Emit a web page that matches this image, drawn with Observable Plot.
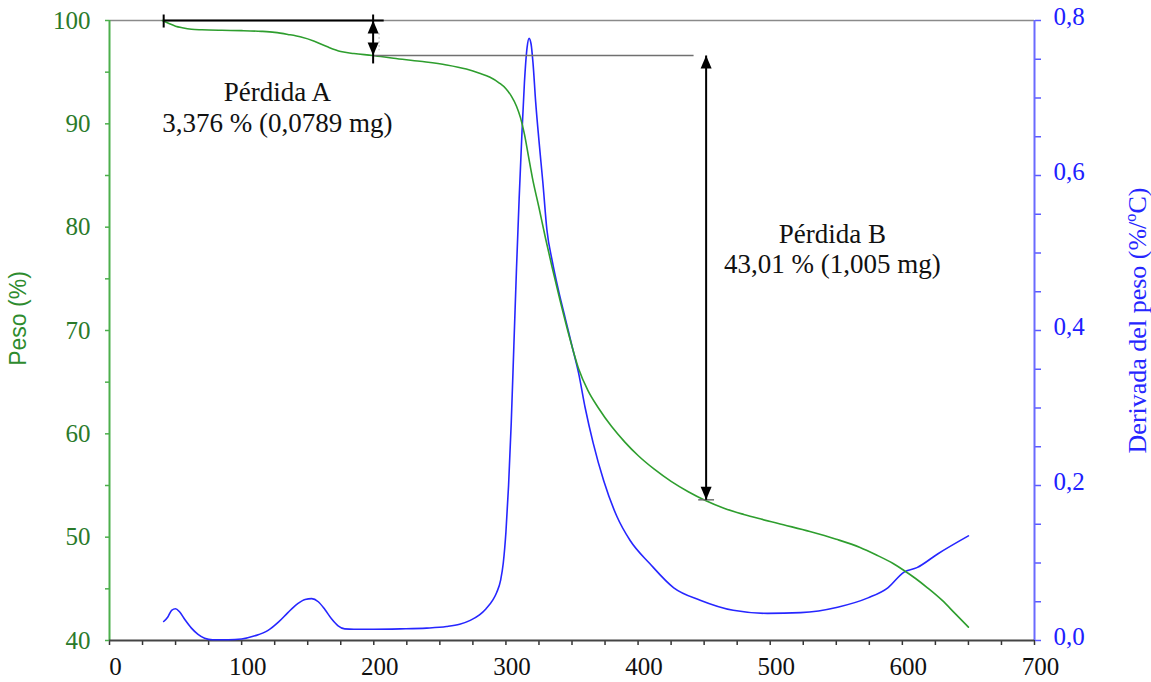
<!DOCTYPE html>
<html><head><meta charset="utf-8">
<script src="https://cdn.jsdelivr.net/npm/d3@7"></script>
<script src="https://cdn.jsdelivr.net/npm/@observablehq/plot@0.6"></script>
<style>body{margin:0;background:#fff} #chart svg{display:block}</style>
</head><body><div id="chart"></div>
<script>
// Temperature (°C) and weight (%) — green TGA curve
const tempW = [40, 45, 50, 55, 62, 70, 85, 100, 115, 125, 135, 145, 155, 165, 175, 185, 199, 215, 235, 255, 270, 280, 288, 295, 300, 304, 308, 311, 314, 317, 320, 325, 330, 335, 341, 348, 355, 362, 370, 380, 390, 400, 412, 425, 438, 451, 465, 480, 493, 510, 530, 550, 568, 580, 593, 601, 610, 619, 630, 640, 650];
const weight = [100, 99.7, 99.45, 99.3, 99.15, 99.1, 99.05, 99.02, 98.95, 98.85, 98.65, 98.4, 98.0, 97.45, 97.0, 96.8, 96.62, 96.35, 96.05, 95.7, 95.3, 94.9, 94.5, 93.95, 93.4, 92.7, 91.7, 90.6, 89.0, 86.9, 84.8, 81.9, 78.9, 76.1, 72.9, 69.4, 66.3, 64.2, 62.5, 60.7, 59.2, 57.9, 56.6, 55.4, 54.4, 53.55, 52.8, 52.2, 51.75, 51.2, 50.55, 49.8, 49.0, 48.3, 47.45, 46.8, 46.0, 45.1, 43.9, 42.6, 41.3];

// Temperature (°C) and weight derivative (%/°C) — blue DTG curve
const tempD = [41, 44, 47, 50, 53, 57, 62, 67, 72, 78, 90, 100, 110, 120, 128, 135, 142, 148, 153, 158, 163, 168, 173, 178, 185, 200, 220, 240, 255, 265, 273, 280, 285, 290, 293, 296, 298, 300, 302, 304, 306, 308, 310, 312, 314, 316, 317.5, 319, 320.5, 322.5, 325, 328, 331, 335, 340, 345, 350, 355, 360, 366, 374, 384, 394, 409, 427, 447, 472, 498, 523, 551, 574, 589, 601, 611, 627, 650];
const deriv = [0.0245, 0.030, 0.039, 0.041, 0.037, 0.027, 0.016, 0.008, 0.003, 0.001, 0.001, 0.002, 0.006, 0.013, 0.024, 0.036, 0.047, 0.053, 0.054, 0.050, 0.040, 0.028, 0.019, 0.015, 0.0145, 0.0145, 0.015, 0.016, 0.018, 0.021, 0.026, 0.033, 0.041, 0.052, 0.062, 0.078, 0.10, 0.14, 0.20, 0.28, 0.38, 0.48, 0.57, 0.65, 0.72, 0.765, 0.777, 0.77, 0.745, 0.695, 0.645, 0.59, 0.53, 0.49, 0.45, 0.415, 0.38, 0.345, 0.30, 0.255, 0.206, 0.16, 0.129, 0.099, 0.068, 0.052, 0.039, 0.035, 0.036, 0.043, 0.055, 0.068, 0.088, 0.094, 0.112, 0.135];

// Axis ticks
const xTicks = [0, 100, 200, 300, 400, 500, 600, 700];
const xMinorStep = 25;
const yLeftTicks = [40, 50, 60, 70, 80, 90, 100];
const yLeftMinorStep = 5;
const yRightTicks = [0, 0.2, 0.4, 0.6, 0.8];
const yRightMinorStep = 0.05;

// Annotation values
const wStart = 100;
const lossA = 3.376, lossB = 43.01;
const tStart = 41, tArrowA = 199.5, tLineAEnd = 207.5, tLineBEnd = 442, tArrowB = 451.5;
const labelsA = ["Pérdida A", "3,376 % (0,0789 mg)"];
const labelsB = ["Pérdida B", "43,01 % (1,005 mg)"];
const labelAPos = {t: 127, w: [93.06, 90.06]};
const labelBPos = {t: 547, w: [79.35, 76.44]};

const wA = wStart - lossA;          // 96.624
const wB = wA - lossB;              // 53.614

// map derivative onto the weight scale (0 → 40, 0.8 → 100)
const k = 60 / 0.8;
const toW = d => 40 + d * k;

const green = "#2e9e2e", blue = "#2626ff";
const tga = tempW.map((t, i) => ({t, w: weight[i]}));
const dtg = tempD.map((t, i) => ({t, w: toW(deriv[i])}));

const headUp = {draw(ctx) { ctx.moveTo(0, 0); ctx.lineTo(-5.5, 13); ctx.lineTo(5.5, 13); ctx.closePath(); }};
const headDown = {draw(ctx) { ctx.moveTo(0, 0); ctx.lineTo(-5.5, -13); ctx.lineTo(5.5, -13); ctx.closePath(); }};

const segsBlack = [
  {x1: tStart, y1: wStart, x2: tLineAEnd, y2: wStart},
  {x1: tStart, y1: wStart + 0.58, x2: tStart, y2: wStart - 0.68},
  {x1: tArrowA, y1: wStart + 0.58, x2: tArrowA, y2: wA - 0.78},
  {x1: tArrowB, y1: wA, x2: tArrowB, y2: wB}
];
const segsGray = [
  {x1: tArrowA, y1: wA, x2: tLineBEnd, y2: wA},
  {x1: tArrowB - 6, y1: wB, x2: tArrowB + 6, y2: wB}
];

const xMinor = d3.range(0, 700 + 1e-9, xMinorStep);
const yLeftMinor = d3.range(40, 100 + 1e-9, yLeftMinorStep);
const yRightMinor = d3.range(0, 0.8 + 1e-9, yRightMinorStep).map(toW);

const chart = Plot.plot({
  width: 1151, height: 682,
  marginLeft: 109, marginRight: 117, marginTop: 20, marginBottom: 42,
  style: {fontFamily: "Liberation Serif, serif", fontSize: "25px", background: "white", overflow: "visible"},
  x: {domain: [0, 700], label: null},
  y: {domain: [40, 100], label: null},
  marks: [
    // frame lines
    Plot.ruleY([100], {stroke: "#8a8a8a", strokeWidth: 1.5}),
    // axes ticks
    Plot.axisX({ticks: xMinor, tickSize: 5, tickFormat: () => "", stroke: "#333", strokeWidth: 1.5, label: null}),
    Plot.axisX({ticks: xTicks, tickSize: 0, tickPadding: 17, dx: 6, fill: "#111", fontSize: 25, label: null}),
    Plot.axisY({ticks: yLeftMinor, tickSize: 4, tickFormat: () => "", stroke: "#4caf4c", strokeWidth: 1.5, label: null}),
    Plot.axisY({ticks: yLeftTicks, tickSize: 0, tickPadding: 19, fill: "#2a7a2a", fontSize: 25, label: null}),
    Plot.axisY({anchor: "right", ticks: yRightMinor, tickSize: 6, tickFormat: () => "", stroke: "#5a5aff", strokeWidth: 1.5, label: null}),
    Plot.axisY({anchor: "right", ticks: yRightTicks.map(toW), tickSize: 0, tickPadding: 19, dy: -4, fill: "#2020ff", fontSize: 25,
      tickFormat: v => ((v - 40) / k).toFixed(1).replace(".", ","), label: null}),
    Plot.ruleX([0], {stroke: "#4caf4c", strokeWidth: 2}),
    Plot.ruleX([700], {stroke: "#6a6aff", strokeWidth: 2}),
    Plot.ruleY([40], {stroke: "#444", strokeWidth: 2}),
    // axis titles
    Plot.text(["Peso (%)"], {frameAnchor: "left", textAnchor: "middle", dx: -91, dy: -12, rotate: -90, fill: "#2e8b2e",
      fontFamily: "Liberation Sans, Arial, sans-serif", fontSize: 23}),
    Plot.text(["Derivada del peso (%/ºC)"], {frameAnchor: "right", textAnchor: "middle", dx: 103, dy: -10, rotate: -90, fill: blue, fontSize: 26}),
    // curves
    Plot.line(dtg, {x: "t", y: "w", stroke: blue, strokeWidth: 1.6, curve: "monotone-x"}),
    Plot.line(tga, {x: "t", y: "w", stroke: green, strokeWidth: 1.6, curve: "monotone-x"}),
    // annotations
    Plot.link(segsGray, {x1: "x1", y1: "y1", x2: "x2", y2: "y2", stroke: "#707070", strokeWidth: 1.5}),
    Plot.link(segsBlack, {x1: "x1", y1: "y1", x2: "x2", y2: "y2", stroke: "#000", strokeWidth: 2}),
    Plot.link([{x: tArrowA + 4.5, y1: wStart - 1.2, y2: wA + 0.5}], {x1: "x", x2: "x", y1: "y1", y2: "y2", stroke: "#bbb", strokeWidth: 1, strokeDasharray: "2,2"}),
    Plot.dot([{t: tArrowA, w: wStart}, {t: tArrowB, w: wA}], {x: "t", y: "w", symbol: headUp, fill: "#000", stroke: "none", r: 6}),
    Plot.dot([{t: tArrowA, w: wA}, {t: tArrowB, w: wB}], {x: "t", y: "w", symbol: headDown, fill: "#000", stroke: "none", r: 6}),
    Plot.text(labelsA.map((s, i) => ({s, t: labelAPos.t, w: labelAPos.w[i]})), {x: "t", y: "w", text: "s", fontSize: 27, fill: "#111"}),
    Plot.text(labelsB.map((s, i) => ({s, t: labelBPos.t, w: labelBPos.w[i]})), {x: "t", y: "w", text: "s", fontSize: 27, fill: "#111"})
  ]
});
document.getElementById("chart").appendChild(chart);
</script>
</body></html>
